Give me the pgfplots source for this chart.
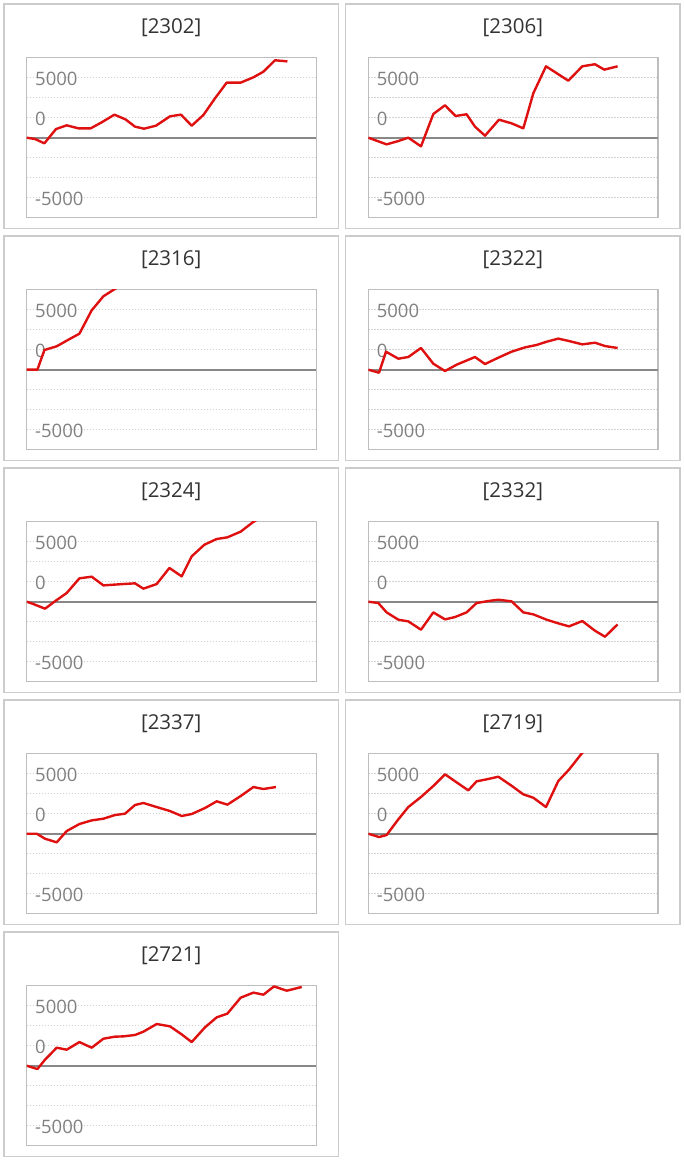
\documentclass[border=0pt]{standalone}
\usepackage{fontspec}
\setmainfont{Open Sans}
\usepackage{pgfplots}
\pgfplotsset{compat=1.18}
\usepackage{pgfplotstable}
\definecolor{redline}{RGB}{222,16,16}
\definecolor{boxgray}{RGB}{204,204,204}
\definecolor{framegray}{RGB}{190,190,190}
\definecolor{gridgray}{RGB}{210,210,210}
\definecolor{zerogray}{RGB}{136,136,136}
\definecolor{tickgray}{RGB}{128,128,128}
\definecolor{titlegray}{RGB}{51,51,51}

\pgfplotstableread{
x y
0 0
8.3 -110
17.7 -470
29.3 720
40 1030
51.7 780
64 780
75 1280
87.7 1920
98.7 1530
108.3 920
117.3 750
129.3 1000
143.3 1780
154.3 1920
165 1000
176.7 1890
188.3 3280
200 4590
214 4590
226.7 5030
236.7 5500
248.3 6450
260.7 6360
}\dataA

\pgfplotstableread{
x y
0 0
18.3 -556
30 -278
40 0
52.7 -722
65 1970
76.7 2700
87.3 1810
98.3 1950
106.7 917
116.7 167
130.7 1500
143.3 1195
155 778
165 3700
177.7 5950
200 4750
214 5950
226.7 6120
236 5670
249.3 5950
}\dataB

\pgfplotstableread{
x y
0 0
10.7 0
17.7 1640
30 1950
41.7 2500
52.7 3000
65 4950
76.7 6120
85 6560
96.7 7170
}\dataC

\pgfplotstableread{
x y
0 0
10.7 -250
17.7 1500
30 917
40 1056
52.7 1810
65 500
76.7 -111
88.3 417
106.7 1056
116.7 472
130 1000
143.3 1500
156.7 1860
168.3 2060
178.3 2330
190 2590
200.7 2390
214 2110
226.7 2250
236.7 1970
249.3 1810
}\dataD

\pgfplotstableread{
x y
0 0
6.7 -195
18.3 -583
30 139
40 722
52.7 1945
65 2085
76.7 1360
96.7 1473
108.3 1530
116.7 1085
130 1473
142.7 2810
155 2110
165 3780
177.7 4750
190 5225
200.7 5365
214 5840
226 6610
236.7 7170
}\dataE

\pgfplotstableread{
x y
0 0
10 -111
18.3 -890
30 -1500
40 -1640
52.7 -2335
65 -890
76.7 -1473
86.7 -1280
98.3 -890
108.3 -111
120 56
130 167
143.3 28
155 -890
165 -1056
178.3 -1500
190 -1806
200.7 -2057
214 -1612
226.7 -2420
236.7 -2920
249.3 -1890
}\dataF

\pgfplotstableread{
x y
0 0
10 0
18.3 -417
30 -722
40 222
52.7 806
65 1110
76.7 1250
88.3 1556
98.3 1667
108.3 2390
116.7 2560
130 2220
143.3 1890
155 1473
165 1640
178.3 2140
190 2700
200.7 2420
214 3140
226.7 3890
236.7 3725
249.3 3890
}\dataG

\pgfplotstableread{
x y
0 0
10.7 -278
18.3 -111
30 1195
40 2220
52.7 3060
65 3975
76.7 4950
88.3 4280
100 3610
108.3 4365
120 4560
130 4750
142.7 4030
155 3280
165 3000
177.7 2220
190 4390
200.7 5340
212.7 6610
223.3 7590
}\dataH

\pgfplotstableread{
x y
0 0
10.7 -278
18.3 500
30 1500
40 1334
52.7 1970
65 1500
76.7 2250
88.3 2420
96.7 2445
108.3 2560
116.7 2835
130 3475
143.3 3280
155 2610
165 1970
178.3 3200
190 4030
200.7 4340
214 5670
226.7 6090
236.7 5920
247.3 6610
260 6250
275 6560
}\dataI

\pgfplotsset{panelstyle/.style={
  scale only axis, width=289.5bp, height=160bp, anchor=south west,
  xmin=0, xmax=289.5, ymin=-6667, ymax=6667,
  xtick=\empty,
  ytick={-5000,-3333.3,-1666.7,1666.7,3333.3,5000},
  yticklabels={-5000,,,0,,5000},
  ymajorgrids,
  major grid style={gridgray, line width=1bp, dash pattern=on 1.5bp off 1.5bp},
  major tick length=0pt,
  axis line style={framegray, line width=1.4bp},
  /pgf/number format/assume math mode=true,
  yticklabel style={anchor=west, inner sep=0pt, xshift=8.3bp, yshift=-1.5bp,
    font=\fontsize{18.5bp}{20bp}\selectfont, text=tickgray},
  clip=true,
}}

\newcommand{\panel}[4]{%
  \draw[boxgray, line width=1.3bp] (#1bp,#2bp) rectangle ++(334.3bp,-224.3bp);
  \node[text=titlegray, font=\fontsize{20.5bp}{22bp}\selectfont] at (#1bp+167.2bp,#2bp-23.5bp) {[#3]};
  \begin{axis}[panelstyle, at={(#1bp+22.7bp,#2bp-213.7bp)}]
    \draw[zerogray, line width=2bp] (axis cs:0,0) -- (axis cs:289.5,0);
    \addplot[redline, line width=2.4bp, line join=round, mark=none] table {#4};
  \end{axis}%
}

\begin{document}
\begin{tikzpicture}
\path[use as bounding box] (0,0) rectangle (684bp,1160bp);
\panel{4}{1156}{2302}{\dataA}
\panel{345.6}{1156}{2306}{\dataB}
\panel{4}{924}{2316}{\dataC}
\panel{345.6}{924}{2322}{\dataD}
\panel{4}{692}{2324}{\dataE}
\panel{345.6}{692}{2332}{\dataF}
\panel{4}{460}{2337}{\dataG}
\panel{345.6}{460}{2719}{\dataH}
\panel{4}{228}{2721}{\dataI}
\end{tikzpicture}
\end{document}
